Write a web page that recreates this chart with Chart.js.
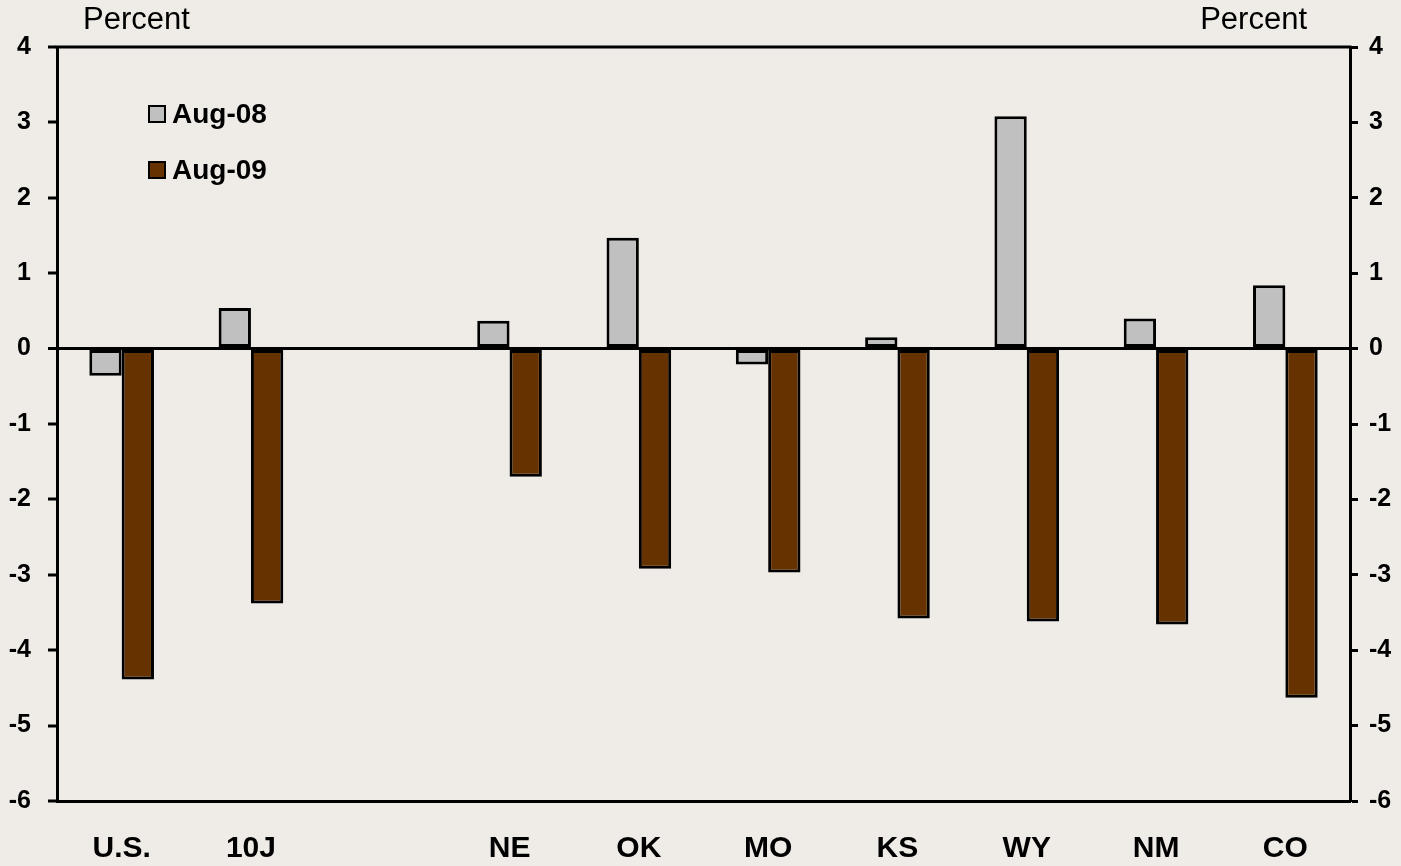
<!DOCTYPE html>
<html>
<head>
<meta charset="utf-8">
<script src="https://cdn.jsdelivr.net/npm/chart.js@4/dist/chart.umd.min.js"></script>
<style>
html,body{margin:0;padding:0;background:#efece8;}
#wrap{width:1401px;height:866px;position:relative;}
</style>
</head>
<body>
<div id="wrap"><canvas id="c" width="1401" height="866"></canvas></div>
<script>
const categories = ['U.S.', '10J', '', 'NE', 'OK', 'MO', 'KS', 'WY', 'NM', 'CO'];
const aug08 = [-0.36, 0.54, null, 0.37, 1.47, -0.21, 0.15, 3.08, 0.40, 0.84];
const aug09 = [-4.39, -3.38, null, -1.70, -2.92, -2.97, -3.58, -3.62, -3.66, -4.63];
const seriesLabels = ['Aug-08', 'Aug-09'];
const yMin = -6, yMax = 4, yStep = 1;
const axisTitle = 'Percent';

const FONT = '"Liberation Sans", Arial, sans-serif';

const frame = {
  id: 'frame',
  afterDraw(chart) {
    const {ctx, chartArea: a} = chart;
    ctx.save();
    ctx.strokeStyle = '#000';
    ctx.lineWidth = 3;
    ctx.beginPath();
    ctx.moveTo(a.left - 1.5, a.top);
    ctx.lineTo(a.right + 1.5, a.top);
    ctx.stroke();
    // axis titles
    ctx.fillStyle = '#000';
    ctx.font = '31px ' + FONT;
    ctx.textBaseline = 'middle';
    ctx.textAlign = 'left';
    ctx.fillText(axisTitle, 83, 20);
    ctx.textAlign = 'right';
    ctx.fillText(axisTitle, 1307, 20);
    // legend
    const ds = chart.data.datasets;
    const ys = [114, 170];
    ctx.font = 'bold 28px ' + FONT;
    ctx.textAlign = 'left';
    ds.forEach((d, i) => {
      ctx.fillStyle = d.backgroundColor;
      ctx.fillRect(149, ys[i] - 8, 16, 16);
      ctx.strokeStyle = '#000';
      ctx.lineWidth = 2;
      ctx.strokeRect(149, ys[i] - 8, 16, 16);
      ctx.fillStyle = '#000';
      ctx.fillText(d.label, 172, ys[i] + 1);
    });
    ctx.restore();
  }
};

new Chart(document.getElementById('c'), {
  type: 'bar',
  data: {
    labels: categories,
    datasets: [
      {label: seriesLabels[0], data: aug08, backgroundColor: '#c0c0c0', borderColor: '#000', borderWidth: 3, borderSkipped: false, yAxisID: 'y'},
      {label: seriesLabels[1], data: aug09, backgroundColor: '#663300', borderColor: '#000', borderWidth: 3, borderSkipped: false, yAxisID: 'y'}
    ]
  },
  options: {
    responsive: false,
    animation: false,
    layout: {padding: {top: 47, left: 0, right: 0, bottom: 0}},
    plugins: {legend: {display: false}, tooltip: {enabled: false}},
    datasets: {bar: {categoryPercentage: 0.5, barPercentage: 1}},
    scales: {
      x: {
        grid: {display: false},
        border: {display: true, color: '#000', width: 3},
        ticks: {color: '#000', font: {family: FONT, size: 30, weight: 'bold'}, padding: 22, maxRotation: 0, autoSkip: false},
        afterFit(s) { s.height = 65; }
      },
      y: {
        position: 'left',
        min: yMin, max: yMax,
        ticks: {stepSize: yStep, color: '#000', font: {family: FONT, size: 25, weight: 'bold'}, padding: 17},
        grid: {
          drawOnChartArea: true,
          color: c => (c.tick && c.tick.value === 0) ? '#000' : 'rgba(0,0,0,0)',
          lineWidth: c => (c.tick && c.tick.value === 0) ? 3 : 0,
          tickColor: '#000', tickWidth: 3, tickLength: 9
        },
        border: {display: true, color: '#000', width: 3},
        afterFit(s) { s.width = 57; }
      },
      y2: {
        position: 'right',
        min: yMin, max: yMax,
        ticks: {stepSize: yStep, color: '#000', font: {family: FONT, size: 25, weight: 'bold'}, padding: 11},
        grid: {drawOnChartArea: false, tickColor: '#000', tickWidth: 3, tickLength: 8},
        border: {display: true, color: '#000', width: 3},
        afterFit(s) { s.width = 51; }
      }
    }
  },
  plugins: [frame]
});
</script>
</body>
</html>
